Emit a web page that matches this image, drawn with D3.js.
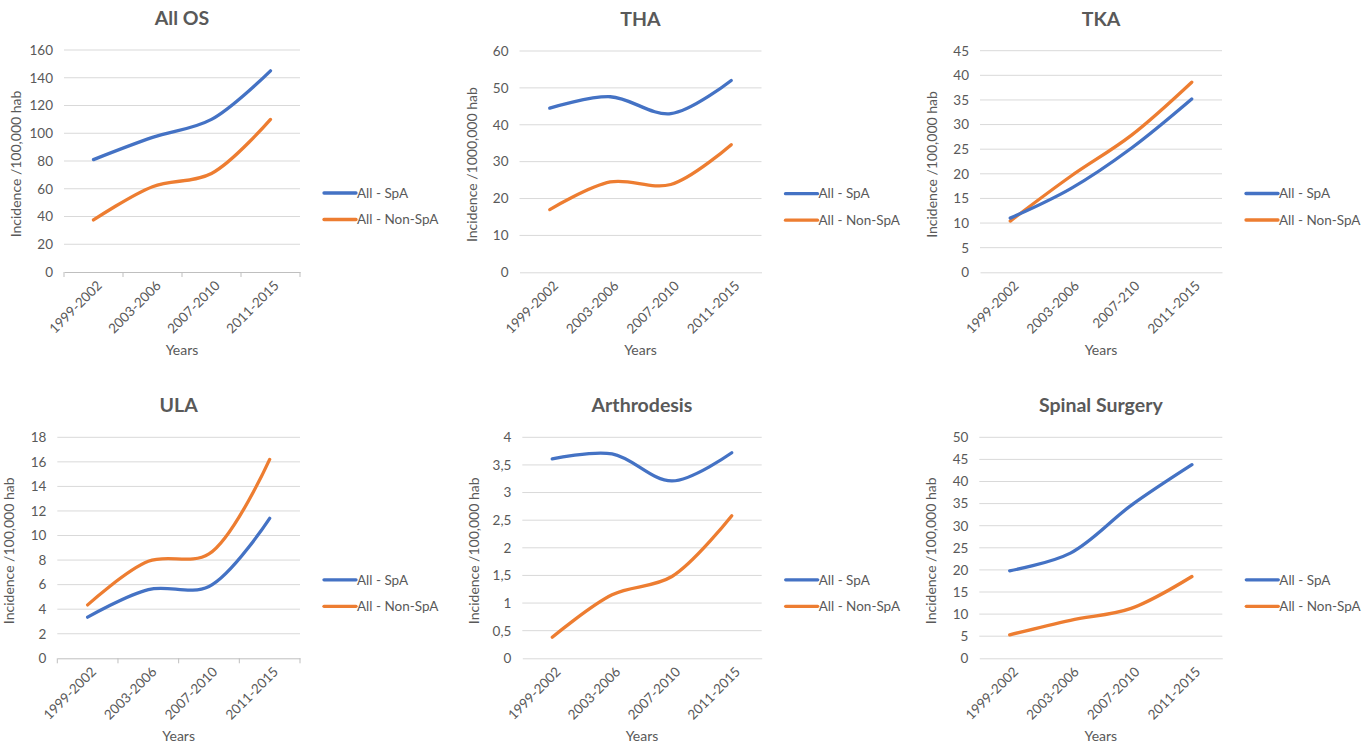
<!DOCTYPE html>
<html><head><meta charset="utf-8">
<script src="https://cdn.jsdelivr.net/npm/d3@7"></script>
<style>
html,body{margin:0;padding:0;background:#fff;}
svg{display:block;font-family:Lato,"Open Sans",sans-serif;}
</style></head>
<body>
<svg id="chart" width="1367" height="744"></svg>
<script>
// ---- data ----
const categories = ["1999-2002", "2003-2006", "2007-2010", "2011-2015"];
const categoriesTKA = ["1999-2002", "2003-2006", "2007-210", "2011-2015"];
const seriesNames = ["All - SpA", "All - Non-SpA"];
const titles = ["All OS", "THA", "TKA", "ULA", "Arthrodesis", "Spinal Surgery"];
const yTitles = ["Incidence /100,000 hab", "Incidence /1000,000 hab", "Incidence /100,000 hab",
                 "Incidence /100,000 hab", "Incidence /100,000 hab", "Incidence /100,000 hab"];
const xTitle = "Years";

const allOsSpA = [81, 97, 110, 145];
const allOsNonSpA = [37.5, 61.5, 71, 110];
const thaSpA = [44.5, 47.6, 43, 52];
const thaNonSpA = [17, 24.5, 23.8, 34.6];
const tkaSpA = [11, 17, 25.2, 35.2];
const tkaNonSpA = [10.4, 19.5, 27.8, 38.6];
const ulaSpA = [3.35, 5.6, 5.85, 11.4];
const ulaNonSpA = [4.35, 7.9, 8.5, 16.2];
const arthSpA = [3.61, 3.70, 3.21, 3.72];
const arthNonSpA = [0.38, 1.15, 1.48, 2.58];
const spinalSpA = [19.8, 23.8, 34.6, 43.8];
const spinalNonSpA = [5.3, 8.6, 11.3, 18.5];

const ticksAllOs = [0, 20, 40, 60, 80, 100, 120, 140, 160];
const ticksTHA = [0, 10, 20, 30, 40, 50, 60];
const ticksTKA = [0, 5, 10, 15, 20, 25, 30, 35, 40, 45];
const ticksULA = [0, 2, 4, 6, 8, 10, 12, 14, 16, 18];
const ticksArth = [0, 0.5, 1, 1.5, 2, 2.5, 3, 3.5, 4];
const ticksSpinal = [0, 5, 10, 15, 20, 25, 30, 35, 40, 45, 50];

// ---- layout / style ----
const colors = ["#4472C4", "#ED7D31"];
const textColor = "#595959";
const gridColor = "#d9d9d9";

const panels = [
  {title: titles[0], yTitle: yTitles[0], cats: categories, spa: allOsSpA, non: allOsNonSpA, ticks: ticksAllOs,
   x0: 64, x1: 300, yT: 50, yB: 272, catTicks: true, comma: false},
  {title: titles[1], yTitle: yTitles[1], cats: categories, spa: thaSpA, non: thaNonSpA, ticks: ticksTHA,
   x0: 519.5, x1: 761.5, yT: 51, yB: 272.3, catTicks: false, comma: false},
  {title: titles[2], yTitle: yTitles[2], cats: categoriesTKA, spa: tkaSpA, non: tkaNonSpA, ticks: ticksTKA,
   x0: 980, x1: 1222, yT: 50.7, yB: 272.3, catTicks: false, comma: false},
  {title: titles[3], yTitle: yTitles[3], cats: categories, spa: ulaSpA, non: ulaNonSpA, ticks: ticksULA,
   x0: 57.3, x1: 300, yT: 437.3, yB: 658.3, catTicks: true, comma: false},
  {title: titles[4], yTitle: yTitles[4], cats: categories, spa: arthSpA, non: arthNonSpA, ticks: ticksArth,
   x0: 522.3, x1: 761.7, yT: 437.3, yB: 658.3, catTicks: false, comma: true},
  {title: titles[5], yTitle: yTitles[5], cats: categories, spa: spinalSpA, non: spinalNonSpA, ticks: ticksSpinal,
   x0: 979.3, x1: 1222.3, yT: 437.3, yB: 658.3, catTicks: false, comma: false}
];

const svg = d3.select("#chart");

panels.forEach(p => {
  const g = svg.append("g");
  const x = d3.scaleBand().domain(p.cats).range([p.x0, p.x1]).padding(0);
  const y = d3.scaleLinear().domain([p.ticks[0], p.ticks[p.ticks.length - 1]]).range([p.yB, p.yT]);
  const fmt = v => p.comma ? String(v).replace(".", ",") : String(v);

  // gridlines
  g.append("g").selectAll("line").data(p.ticks.slice(1)).join("line")
    .attr("x1", p.x0).attr("x2", p.x1)
    .attr("y1", d => y(d)).attr("y2", d => y(d))
    .attr("stroke", gridColor).attr("stroke-width", 1);

  // y axis (labels only)
  const yAxis = d3.axisLeft(y).tickValues(p.ticks).tickSize(0).tickPadding(0).tickFormat(fmt);
  const ya = g.append("g").attr("transform", `translate(${p.x0 - 11},0)`).call(yAxis);
  ya.select(".domain").remove();
  ya.selectAll("text").attr("fill", textColor).style("font-size", "13.5px").style("font-family", "Lato");

  // x axis
  const xAxis = d3.axisBottom(x).tickSize(0).tickPadding(0);
  const xa = g.append("g").attr("transform", `translate(0,${p.yB})`).call(xAxis);
  xa.select(".domain").attr("stroke", p.catTicks ? "#bfbfbf" : gridColor);
  xa.selectAll("text")
    .attr("fill", textColor).style("font-size", "13.5px").style("font-family", "Lato")
    .attr("text-anchor", "end")
    .attr("transform", "translate(6,11) rotate(-45)")
    .attr("dy", "0.35em");
  if (p.catTicks) {
    const edges = p.cats.map(c => x(c)).concat([p.x1]);
    g.append("g").selectAll("line").data(edges).join("line")
      .attr("x1", d => d).attr("x2", d => d)
      .attr("y1", p.yB).attr("y2", p.yB + 5)
      .attr("stroke", "#bfbfbf").attr("stroke-width", 1);
  }

  // series lines
  const line = d3.line()
    .x((d, i) => x(p.cats[i]) + x.bandwidth() / 2)
    .y(d => y(d))
    .curve(d3.curveCatmullRom.alpha(0.5));
  [p.non, p.spa].forEach((vals, k) => {
    const ci = k === 0 ? 1 : 0;
    g.append("path").datum(vals).attr("d", line)
      .attr("fill", "none").attr("stroke", colors[ci])
      .attr("stroke-width", 3.3).attr("stroke-linecap", "round");
  });

  // title
  const cx = (p.x0 + p.x1) / 2;
  g.append("text").attr("x", cx).attr("y", p.yT - 25)
    .attr("text-anchor", "middle").attr("fill", textColor)
    .style("font-size", "19.5px").style("font-weight", "bold").text(p.title);

  // y title
  g.append("text")
    .attr("transform", `translate(${p.x0 - 43},${(p.yT + p.yB) / 2 + 3}) rotate(-90)`)
    .attr("text-anchor", "middle").attr("fill", textColor)
    .style("font-size", "14px").text(p.yTitle);

  // x title
  g.append("text").attr("x", cx).attr("y", p.yB + 83)
    .attr("text-anchor", "middle").attr("fill", textColor)
    .style("font-size", "14px").text(xTitle);

  // legend
  const lx = p.x1 + 24;
  const ly = (p.yT + p.yB) / 2 + 32;
  seriesNames.forEach((name, i) => {
    const yy = ly + i * 26.5;
    g.append("line").attr("x1", lx).attr("x2", lx + 32).attr("y1", yy).attr("y2", yy)
      .attr("stroke", colors[i]).attr("stroke-width", 3.3).attr("stroke-linecap", "round");
    g.append("text").attr("x", lx + 33).attr("y", yy).attr("dy", "0.35em")
      .attr("fill", textColor).style("font-size", "13.5px").text(name);
  });
});
</script>
</body></html>
